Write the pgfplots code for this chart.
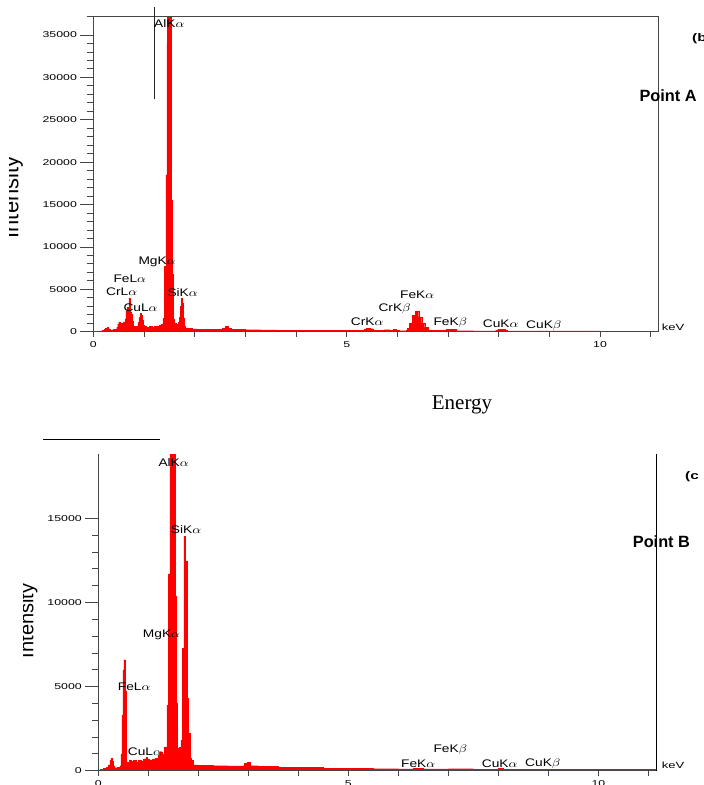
\documentclass[border=0pt]{standalone}
\usepackage{pgfplots}
\pgfplotsset{compat=1.18}
\usepackage{fontspec}
\setmainfont{Liberation Sans}
\newfontfamily\seriffont{Liberation Serif}
\usepackage{graphicx}
\newcommand\sx[1]{\scalebox{1.45}[1]{#1}}
\newcommand\pk[1]{\scalebox{1.25}[1]{#1}}
\pgfplotsset{eds/.style={
  scale only axis, anchor=south west, xmin=0, ymin=0,
  scaled x ticks=false, scaled y ticks=false,
  tick align=outside, xtick pos=left, ytick pos=left,
  xtick={0,5,10}, minor xtick={1,2,3,4,6,7,8,9,11},
  xticklabels={\sx{0},\sx{5},\sx{10}},
  major tick length=13pt, minor tick length=6pt,
  xtick style={/pgfplots/major tick length=5pt,/pgfplots/minor tick length=5pt},
  tick style={gray!55!black, line width=0.8pt},
  axis line style={gray!55!black, line width=1.1pt},
  tick label style={font=\fontsize{8.5}{10}\selectfont},
  xticklabel style={yshift=7pt},
  minor y tick num=4,
  axis on top,
}}
\begin{document}
\begin{tikzpicture}[x=1pt,y=1pt]
\useasboundingbox (0pt,0pt) rectangle (704pt,785pt);
% ---------------- top spectrum (Point A)
\begin{axis}[eds, at={(93.4pt,453.3pt)}, width=564.9pt, height=315.4pt,
  xmax=11.15, ymax=37200,
  ytick={0,5000,10000,15000,20000,25000,30000,35000},
  yticklabels={\sx{0},\sx{5000},\sx{10000},\sx{15000},\sx{20000},\sx{25000},\sx{30000},\sx{35000}}]
\addplot[const plot, draw=red, fill=red, line width=0.3pt] coordinates {
(0,0) (0.06,60) (0.12,100) (0.18,150) (0.22,300) (0.24,450) (0.27,520) (0.30,350) (0.33,200)
(0.38,250) (0.42,300) (0.46,550) (0.48,900) (0.50,1150) (0.52,950) (0.54,700) (0.56,1000)
(0.58,1150) (0.60,950) (0.62,1500) (0.64,2400) (0.66,2900) (0.68,2700) (0.70,4000) (0.72,2300)
(0.74,2100) (0.76,1200) (0.78,650) (0.82,600) (0.86,700) (0.88,1100) (0.90,1700) (0.92,2150)
(0.94,2000) (0.96,1400) (0.98,800) (1.00,600) (1.05,550) (1.10,600) (1.15,550) (1.20,650)
(1.25,700) (1.30,750) (1.34,900) (1.37,1600) (1.40,7700) (1.43,18500) (1.45,34000) (1.46,40000)
(1.53,15500) (1.555,6800) (1.58,1500) (1.60,1000) (1.63,850) (1.67,1100) (1.69,1700) (1.71,3000)
(1.73,3900) (1.75,3400) (1.77,1600) (1.79,700) (1.82,450) (1.88,380) (1.95,330) (2.05,300)
(2.20,280) (2.35,260) (2.50,300) (2.55,450) (2.60,600) (2.66,400) (2.72,250) (3.0,230)
(3.3,220) (3.6,200) (4.0,190) (4.4,170) (4.8,160) (5.2,150) (5.34,300) (5.38,400) (5.46,350)
(5.52,150) (5.70,180) (5.74,230) (5.86,200) (5.92,250) (5.98,180) (6.04,120) (6.18,200)
(6.20,400) (6.24,950) (6.30,1950) (6.36,2450) (6.42,1750) (6.48,1000) (6.54,500) (6.60,200)
(6.70,130) (6.92,200) (6.96,300) (7.10,250) (7.16,120) (7.50,100) (7.94,200) (7.98,280)
(8.12,180) (8.16,100) (9.0,90) (10.0,80) (11.15,80)
} \closedcycle;
\end{axis}
% ---------------- bottom spectrum (Point B)
\begin{axis}[eds, at={(98.3pt,14.3pt)}, width=558.2pt, height=316.4pt,
  xmax=11.16, ymax=18810,
  axis x line*=bottom, axis y line*=left,
  ytick={0,5000,10000,15000},
  yticklabels={\sx{0},\sx{5000},\sx{10000},\sx{15000}}]
\addplot[const plot, draw=red, fill=red, line width=0.3pt] coordinates {
(0,0) (0.04,100) (0.10,150) (0.16,200) (0.20,350) (0.23,600) (0.25,740) (0.27,550) (0.29,300)
(0.32,180) (0.38,200) (0.43,300) (0.45,1000) (0.47,3300) (0.49,6000) (0.51,6600) (0.53,4700)
(0.55,450) (0.58,500) (0.62,650) (0.66,550) (0.70,600) (0.75,520) (0.80,600) (0.85,580)
(0.90,700) (0.95,800) (0.98,700) (1.02,650) (1.08,700) (1.14,750) (1.20,900) (1.24,1130)
(1.28,1000) (1.32,1400) (1.37,3900) (1.40,11700) (1.43,20000) (1.53,10400) (1.555,4000)
(1.58,1350) (1.62,1400) (1.65,1800) (1.68,7280) (1.71,13950) (1.74,12480) (1.77,4300)
(1.80,2220) (1.83,740) (1.86,600) (1.89,340) (2.0,320) (2.3,300) (2.6,290) (2.88,300)
(2.92,450) (2.98,480) (3.04,300) (3.2,250) (3.6,220) (4.0,200) (4.5,160) (5.0,140) (5.5,120)
(6.0,110) (6.3,140) (6.5,110) (7.0,120) (7.5,90) (8.0,140) (8.1,90) (9.0,80) (10.0,70) (11.16,70)
} \closedcycle;
\end{axis}
% ---------------- decorations
\draw[gray!55!black, line width=1.1pt] (87pt,768.7pt) -- (93.4pt,768.7pt);
\draw[black!85, line width=0.8pt] (154.3pt,778pt) -- (154.3pt,686pt);
\draw[black, line width=0.8pt] (43.3pt,345.7pt) -- (160pt,345.7pt);
\draw[black, line width=0.8pt] (656.5pt,14.3pt) -- (656.5pt,330.7pt);
% ---------------- peak labels
\begin{scope}[every node/.style={anchor=west, inner sep=0pt, font=\fontsize{11}{13}\selectfont}]
\node at (154pt,761pt) {\pk{AlK$\alpha$}};
\node at (138.3pt,523.3pt) {\pk{MgK$\alpha$}};
\node at (113.3pt,506.7pt) {\pk{FeL$\alpha$}};
\node at (106pt,493.3pt) {\pk{CrL$\alpha$}};
\node at (123.3pt,477.7pt) {\pk{CuL$\alpha$}};
\node at (167.3pt,492.7pt) {\pk{SiK$\alpha$}};
\node at (350.7pt,463.3pt) {\pk{CrK$\alpha$}};
\node at (378.3pt,476.7pt) {\pk{CrK$\beta$}};
\node at (400pt,490.7pt) {\pk{FeK$\alpha$}};
\node at (433.3pt,462.7pt) {\pk{FeK$\beta$}};
\node at (482.7pt,461.7pt) {\pk{CuK$\alpha$}};
\node at (526pt,459.3pt) {\pk{CuK$\beta$}};
\node at (158.3pt,322.7pt) {\pk{AlK$\alpha$}};
\node at (170.7pt,255pt) {\pk{SiK$\alpha$}};
\node at (142.7pt,150pt) {\pk{MgK$\alpha$}};
\node at (117.7pt,98.3pt) {\pk{FeL$\alpha$}};
\node at (127.7pt,33.3pt) {\pk{CuL$\alpha$}};
\node at (433.3pt,35.7pt) {\pk{FeK$\beta$}};
\node at (401pt,21.7pt) {\pk{FeK$\alpha$}};
\node at (481.7pt,21.7pt) {\pk{CuK$\alpha$}};
\node at (525pt,21.3pt) {\pk{CuK$\beta$}};
\node[font=\fontsize{9}{11}\selectfont] at (661.7pt,457.7pt) {\sx{keV}};
\node[font=\fontsize{9}{11}\selectfont] at (661.7pt,20pt) {\sx{keV}};
\node[font=\fontsize{11}{13}\selectfont\bfseries] at (692pt,746pt) {\scalebox{1.4}[1]{(b}};
\node[font=\fontsize{11}{13}\selectfont\bfseries] at (685pt,308.3pt) {\scalebox{1.4}[1]{(c}};
\node[font=\fontsize{16.3}{19}\selectfont\bfseries] at (639.3pt,689.3pt) {Point A};
\node[font=\fontsize{16.3}{19}\selectfont\bfseries] at (632.7pt,243.3pt) {Point B};
\end{scope}
\node[anchor=base west, inner sep=0pt, font=\seriffont\fontsize{21}{25}\selectfont] at (431.7pt,375pt) {Energy};
\begin{scope}
\clip (9.3pt,400pt) rectangle (90pt,785pt);
\node[rotate=90, anchor=base, inner sep=0pt, font=\fontsize{21.9}{26}\selectfont] at (18.3pt,587.5pt) {Intensity};
\end{scope}
\begin{scope}
\clip (23.3pt,0pt) rectangle (90pt,440pt);
\node[rotate=90, anchor=base, inner sep=0pt, font=\fontsize{20}{24}\selectfont] at (33.3pt,164.2pt) {Intensity};
\end{scope}
\end{tikzpicture}
\end{document}
